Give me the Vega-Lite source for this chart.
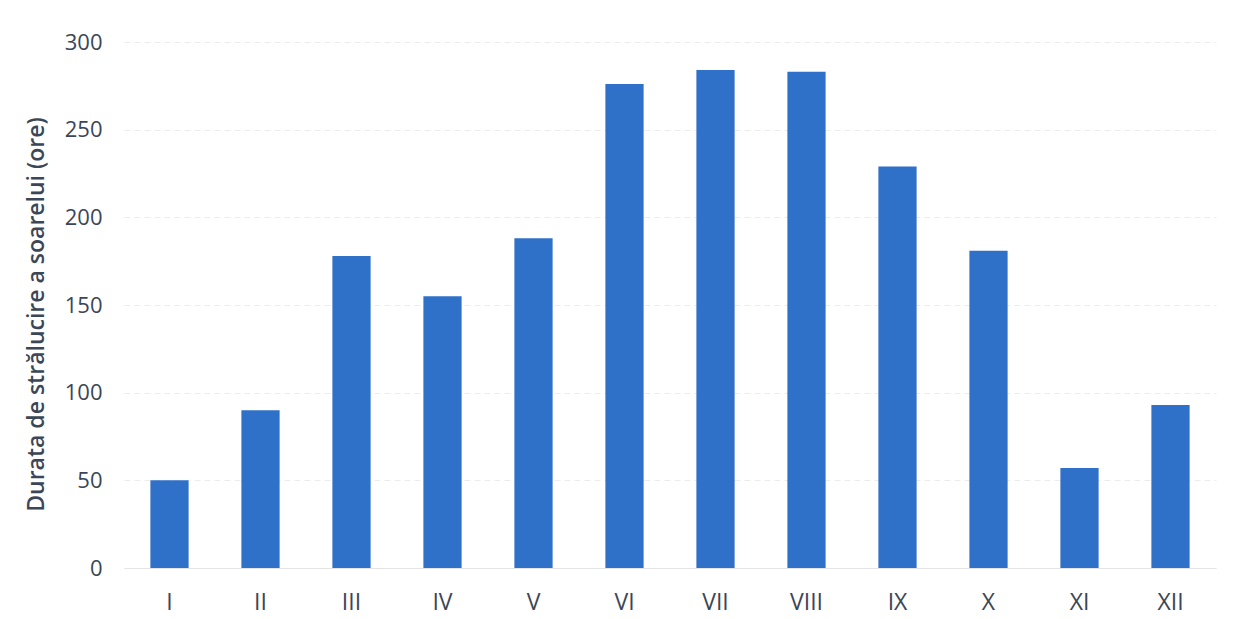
{
  "$schema": "https://vega.github.io/schema/vega-lite/v6.json",
  "autosize": {"type": "none"},
  "width": 1092,
  "height": 526,
  "padding": {"left": 124, "top": 42, "right": 31, "bottom": 51},
  "background": "white",
  "config": {"view": {"stroke": null}, "font": "Open Sans"},
  "data": {"values": [
    {"luna": "I", "ore": 50},
    {"luna": "II", "ore": 90},
    {"luna": "III", "ore": 178},
    {"luna": "IV", "ore": 155},
    {"luna": "V", "ore": 188},
    {"luna": "VI", "ore": 276},
    {"luna": "VII", "ore": 284},
    {"luna": "VIII", "ore": 283},
    {"luna": "IX", "ore": 229},
    {"luna": "X", "ore": 181},
    {"luna": "XI", "ore": 57},
    {"luna": "XII", "ore": 93}
  ]},
  "mark": {"type": "bar", "color": "#2f70c8"},
  "encoding": {
    "x": {"field": "luna", "type": "nominal", "sort": null,
      "scale": {"paddingInner": 0.58, "paddingOuter": 0.29},
      "axis": {"title": null, "labelAngle": 0, "labelFontSize": 23, "labelColor": "#3b4656", "labelPadding": 23, "ticks": false, "domain": true, "domainColor": "#e4e4e4", "domainWidth": 1, "labelFont": "Open Sans"}},
    "y": {"field": "ore", "type": "quantitative",
      "scale": {"domain": [0, 300]},
      "axis": {"values": [0, 50, 100, 150, 200, 250, 300], "title": "Durata de strălucire a soarelui (ore)", "titleFontSize": 23, "titleFontWeight": 600, "titleColor": "#3b4656", "titlePadding": 16, "titleY": 272, "labelFontSize": 22, "labelColor": "#3b4656", "labelPadding": 22, "ticks": false, "domain": false, "grid": true, "gridColor": "#ececec", "gridDash": [6, 4], "labelFont": "Open Sans", "titleFont": "Open Sans"}}
  }
}
